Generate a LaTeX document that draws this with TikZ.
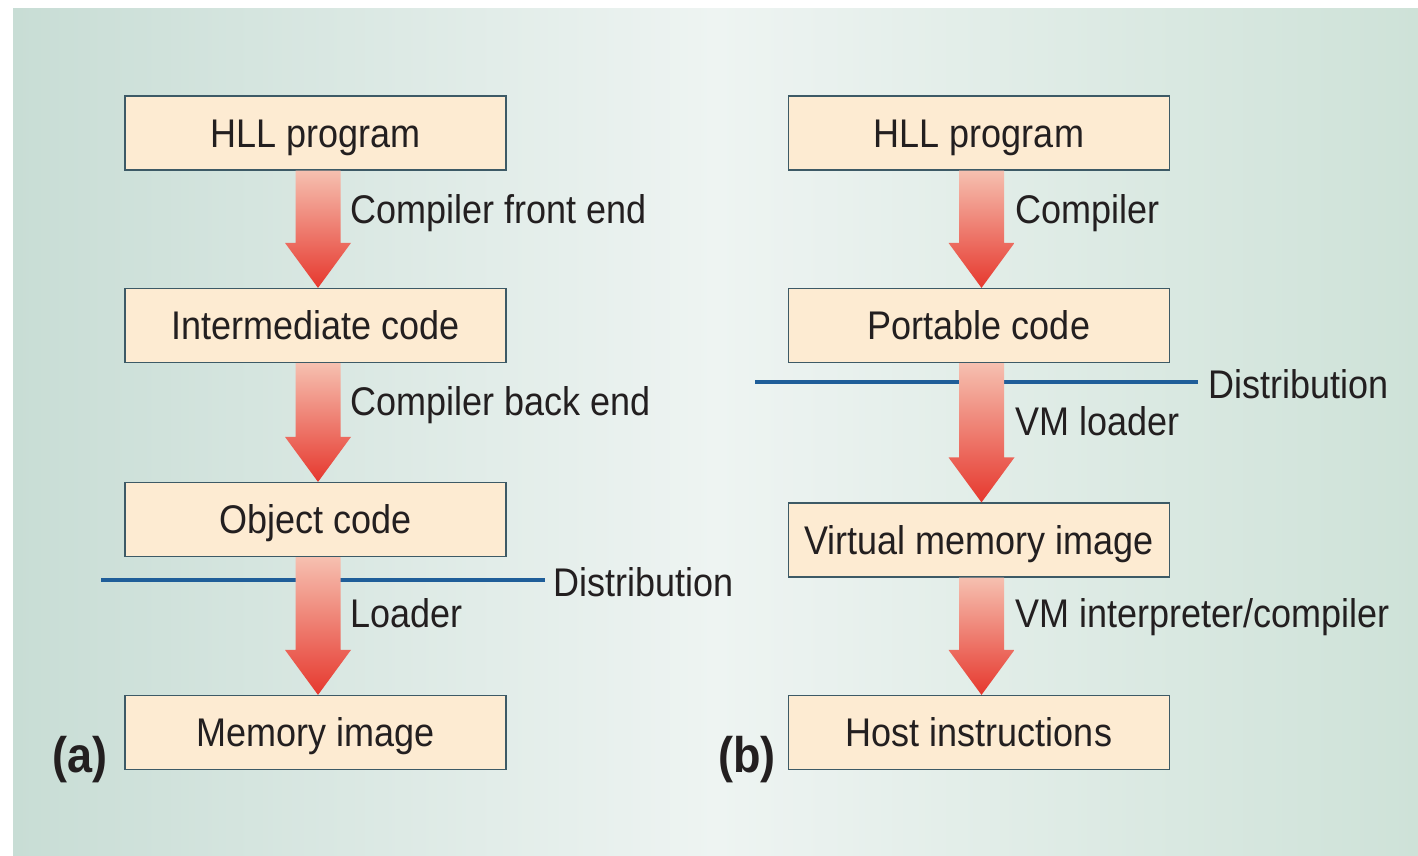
\documentclass[tikz,border=0pt]{standalone}
\usepackage{fontspec}
\setmainfont{Liberation Sans}
\newfontfamily\condfont[FakeStretch=0.9]{Liberation Sans}
\usetikzlibrary{calc}
\definecolor{bgside}{HTML}{C8DDD5}
\definecolor{bgright}{HTML}{CEE2D8}
\definecolor{bgmid}{HTML}{EEF4F2}
\definecolor{boxfill}{HTML}{FDEBD2}
\definecolor{boxline}{HTML}{3D5A66}
\definecolor{txt}{HTML}{231F20}
\definecolor{distline}{HTML}{1F5E99}
\definecolor{arrtop}{HTML}{F6C0B0}
\definecolor{arrbot}{HTML}{E6382E}
\tikzset{
  stagebox/.style={draw=boxline, fill=boxfill, line width=1.2pt, minimum width=381pt,
    minimum height=74pt, inner sep=0pt, text height=28pt, text depth=0pt,
    font=\condfont\fontsize{40}{44}\selectfont, text=txt},
  steplabel/.style={anchor=base west, inner sep=0pt, font=\condfont\fontsize{40}{44}\selectfont, text=txt},
  partlabel/.style={anchor=base, inner sep=0pt, font=\condfont\fontsize{50}{54}\selectfont\bfseries, text=txt},
  fatarrow/.style={top color=arrtop, bottom color=arrbot, draw=none},
  distrule/.style={draw=distline, line width=4.5pt}
}
\newcommand\fatarr[2]{%
  \path[fatarrow] let \p1=([xshift=2.5pt]#1.south), \p2=([xshift=2.5pt]#2.north) in
    (\x1-22.5pt,\y1) -- (\x1+22.5pt,\y1) -- (\x1+22.5pt,\y2+45pt) -- (\x1+33pt,\y2+45pt)
    -- (\x1,\y2) -- (\x1-33pt,\y2+45pt) -- (\x1-22.5pt,\y2+45pt) -- cycle;}
\begin{document}
\begin{tikzpicture}[x=1pt,y=-1pt]
\useasboundingbox (0,0) rectangle (1418,856);
\fill[white] (0,0) rectangle (1418,856);
\shade[left color=bgside, right color=bgright, middle color=bgmid] (13,9) rectangle (1418,856);

% (a)
\node[stagebox] (a1) at (315.5,133) {HLL program};
\node[stagebox] (a2) at (315.5,325.5) {Intermediate code};
\node[stagebox] (a3) at (315.5,519.5) {Object code};
\node[stagebox] (a4) at (315.5,732.5) {Memory image};
% (b)
\node[stagebox] (b1) at (979,133) {HLL program};
\node[stagebox] (b2) at (979,325.5) {Portable code};
\node[stagebox] (b3) at (979,540) {Virtual memory image};
\node[stagebox] (b4) at (979,732.5) {Host instructions};

% distribution lines
\coordinate (da0) at (101,580);
\coordinate (da1) at (545,580);
\coordinate (db0) at (755,382);
\coordinate (db1) at (1198,382);
\draw[distrule] (da0) -- (da1);
\draw[distrule] (db0) -- (db1);

% arrows
\fatarr{a1}{a2}
\fatarr{a2}{a3}
\fatarr{a3}{a4}
\fatarr{b1}{b2}
\fatarr{b2}{b3}
\fatarr{b3}{b4}

% labels
\node[steplabel] (la1) at (350,223) {Compiler front end};
\node[steplabel] (la2) at (350,415) {Compiler back end};
\node[steplabel] (la3) at (350,627) {Loader};
\node[steplabel] (lb1) at (1015,223) {Compiler};
\node[steplabel] (lb2) at (1015,435) {VM loader};
\node[steplabel] (lb3) at (1015,627) {VM interpreter/compiler};
\node[steplabel] (dla) at (553,596) {Distribution};
\node[steplabel] (dlb) at (1208,398) {Distribution};
\node[partlabel] (pa) at (80,772) {(a)};
\node[partlabel] (pb) at (747,772) {(b)};
\end{tikzpicture}
\end{document}
